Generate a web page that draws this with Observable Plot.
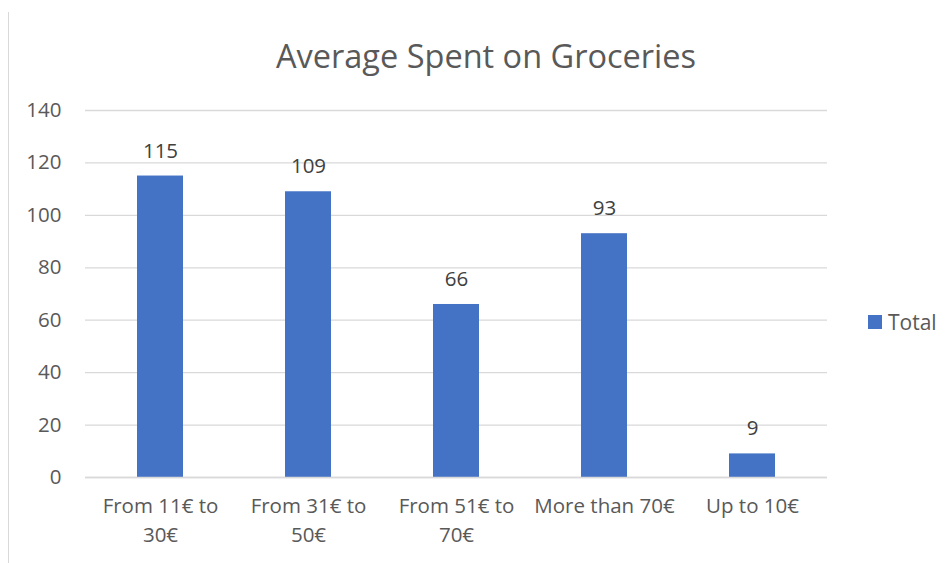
<!DOCTYPE html>
<html>
<head>
<meta charset="utf-8">
<script src="https://cdn.jsdelivr.net/npm/d3@7"></script>
<script src="https://cdn.jsdelivr.net/npm/@observablehq/plot@0.6"></script>
<style>
  html, body { margin: 0; padding: 0; background: #fff; }
  #wrap { position: relative; width: 952px; height: 563px; font-family: "Open Sans", sans-serif; color: #595959; }
  #border { position: absolute; left: 8px; top: 12px; width: 1px; height: 551px; background: #d9d9d9; }
  #title { position: absolute; left: 486px; top: 55px; transform: translate(-50%, -50%); font-size: 32.5px; white-space: nowrap; color: #595959; }
  #legend { position: absolute; left: 868px; top: 322px; transform: translateY(-50%); display: flex; align-items: center; font-size: 21px; color: #595959; }
  #legend .sw { width: 14px; height: 14px; background: #4472C4; margin-right: 6px; }
  #chart { position: absolute; left: 0; top: 0; }
</style>
</head>
<body>
<div id="wrap">
  <div id="border"></div>
  <div id="chart"></div>
  <div id="title">Average Spent on Groceries</div>
  <div id="legend"><div class="sw"></div><span id="legendLabel"></span></div>
</div>
<script>
const categories = ["From 11€ to 30€", "From 31€ to 50€", "From 51€ to 70€", "More than 70€", "Up to 10€"];
const values = [115, 109, 66, 93, 9];
const seriesName = "Total";
const yTicks = [0, 20, 40, 60, 80, 100, 120, 140];

const data = categories.map((c, i) => ({category: c, value: values[i]}));
document.getElementById("legendLabel").textContent = seriesName;

const chart = Plot.plot({
  width: 952,
  height: 563,
  marginLeft: 85,
  marginRight: 125,
  marginTop: 110,
  marginBottom: 86,
  style: {fontFamily: "Open Sans, sans-serif", fontSize: "20.5px", color: "#595959", background: "transparent"},
  x: {domain: categories, paddingInner: 0.69, paddingOuter: 0.345},
  y: {domain: [0, 140]},
  marks: [
    Plot.gridY(yTicks, {stroke: "#d9d9d9", strokeOpacity: 1, strokeWidth: 1.3}),
    Plot.axisY(yTicks, {tickSize: 0, tickPadding: 24, fill: "#595959", fontSize: 20.5, label: null}),
    Plot.axisX({tickSize: 0, tickPadding: 14, fill: "#595959", fontSize: 20.5, label: null, lineHeight: 1.45,
      tickFormat: d => d.startsWith("From") ? d.replace(/ to /, " to\n") : d}),
    Plot.barY(data, {x: "category", y: "value", fill: "#4472C4"}),
    Plot.ruleY([0], {stroke: "#d9d9d9", strokeWidth: 1.3}),
    Plot.text(data, {x: "category", y: "value", text: d => String(d.value), dy: -25, fill: "#404040", fontSize: 20.5})
  ]
});
document.getElementById("chart").appendChild(chart);
</script>
</body>
</html>
